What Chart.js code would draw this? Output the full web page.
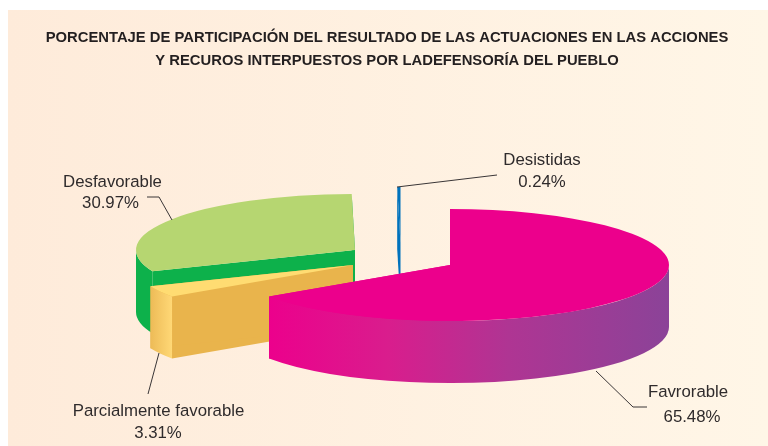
<!DOCTYPE html>
<html><head><meta charset="utf-8">
<style>html,body{margin:0;padding:0;background:#fff}canvas{display:block}</style>
<script src="https://cdn.jsdelivr.net/npm/chart.js@4/dist/chart.umd.min.js"></script>
</head><body><div style="width:768px;height:446px"><canvas id="c"></canvas></div>
<script>
const categories = ['Favrorable','Parcialmente favorable','Desfavorable','Desistidas'];
const percentages = [65.48,3.31,30.97,0.24];
const titleLines = ['PORCENTAJE DE PARTICIPACIÓN DEL RESULTADO DE LAS ACTUACIONES EN LAS ACCIONES','Y RECUROS INTERPUESTOS POR LADEFENSORÍA DEL PUEBLO'];

// styling / placement of the 3D rendering (not data)
const topColors = ['#EC008C','#FFDC72','#B6D671','#0072BC'];
const cutColors = ['#EC008C','#E9B44C','#0DB14B','#0072BC'];
const explode = [[63,6],[-34,6],[-32,-9],[13.5,-16]];
const drawOrder = [2,1,3,0];
const TILT = 0.256, DEPTH = 62, TEXT = '#2f2b2c';
const callouts = [
  {i:0, lines:[[688,392],[692,417]], leader:[[596,371],[633,407],[647,407]]},
  {i:1, lines:[[158.5,411],[158,433]], leader:[[159,353],[148,394]]},
  {i:2, lines:[[112.5,182],[110.5,203]], leader:[[147,197],[159,197],[172,220]]},
  {i:3, lines:[[542,160],[542,182]], leader:[[397,187],[497,175]]}
];

const pie3d = {
  id:'pie3d',
  beforeDraw(chart){
    const {ctx,width,height} = chart;
    const g = ctx.createLinearGradient(8,0,width,0);
    g.addColorStop(0,'#FEEBDA'); g.addColorStop(1,'#FFF6E7');
    ctx.save(); ctx.fillStyle=g; ctx.fillRect(8,10,width-8,height-10); ctx.restore();
  },
  beforeDatasetsDraw(chart){
    const {ctx} = chart;
    const arcs = chart.getDatasetMeta(0).data;
    drawOrder.forEach(k=>{
      const a = arcs[k];
      const cx = a.x+explode[k][0], cy = a.y+explode[k][1];
      const rx = a.outerRadius, ry = rx*TILT;
      const s = a.startAngle, e = a.endAngle;
      const pt = t=>[cx+rx*Math.cos(t), cy+ry*Math.sin(t)];
      // cut faces
      ctx.save();
      ctx.fillStyle = cutColors[k];
      [s,e].forEach(t=>{
        const p = pt(t);
        ctx.beginPath();
        ctx.moveTo(cx,cy); ctx.lineTo(p[0],p[1]); ctx.lineTo(p[0],p[1]+DEPTH); ctx.lineTo(cx,cy+DEPTH);
        ctx.closePath(); ctx.fill();
      });
      // outer wall (only its front-facing part)
      const t1 = Math.max(s,0), t2 = Math.min(e,Math.PI);
      if (t2>t1){
        const pa = pt(t1), pb = pt(t2);
        let fill = cutColors[k];
        if (k===0){
          const g = ctx.createLinearGradient(cx-rx*0.83,0,cx+rx,0);
          g.addColorStop(0,'#EC008C'); g.addColorStop(0.3,'#D91D8D');
          g.addColorStop(0.6,'#AF3593'); g.addColorStop(1,'#8B4398');
          fill = g;
        } else if (k===1){
          const g = ctx.createLinearGradient(pb[0],0,pa[0],0);
          g.addColorStop(0,'#EDBB57'); g.addColorStop(1,'#FFD876');
          fill = g;
        }
        ctx.fillStyle = fill;
        ctx.beginPath();
        ctx.ellipse(cx,cy,rx,ry,0,t1,t2);
        ctx.lineTo(pb[0],pb[1]+DEPTH);
        ctx.ellipse(cx,cy+DEPTH,rx,ry,0,t2,t1,true);
        ctx.closePath(); ctx.fill();
      }
      // top face: the library's own arc element, tilted
      ctx.translate(cx,cy); ctx.scale(1,TILT); ctx.translate(-a.x,-a.y);
      a.draw(ctx);
      ctx.restore();
    });
    // callouts
    ctx.save();
    ctx.strokeStyle='#3a3637'; ctx.lineWidth=1;
    ctx.fillStyle=TEXT; ctx.font='16.8px "Liberation Sans", Arial, sans-serif';
    ctx.textAlign='center'; ctx.textBaseline='middle';
    callouts.forEach(c=>{
      ctx.beginPath();
      c.leader.forEach((p,n)=> n?ctx.lineTo(p[0],p[1]):ctx.moveTo(p[0],p[1]));
      ctx.stroke();
      ctx.fillText(categories[c.i], c.lines[0][0], c.lines[0][1]);
      ctx.fillText(percentages[c.i].toFixed(2)+'%', c.lines[1][0], c.lines[1][1]);
    });
    ctx.restore();
    return false;
  }
};

new Chart(document.getElementById('c'),{
  type:'pie',
  data:{labels:categories,datasets:[{data:percentages,backgroundColor:topColors,borderWidth:0}]},
  plugins:[pie3d],
  options:{
    responsive:true,maintainAspectRatio:false,animation:false,radius:219,
    layout:{padding:{left:6}},
    plugins:{
      legend:{display:false},tooltip:{enabled:false},
      title:{display:true,text:titleLines,color:'#231F20',
        font:{family:'"Liberation Sans", Arial, sans-serif',size:14.8,weight:'bold',lineHeight:23/14.8},
        padding:{top:26,bottom:0}}
    }
  }
});
</script></body></html>
